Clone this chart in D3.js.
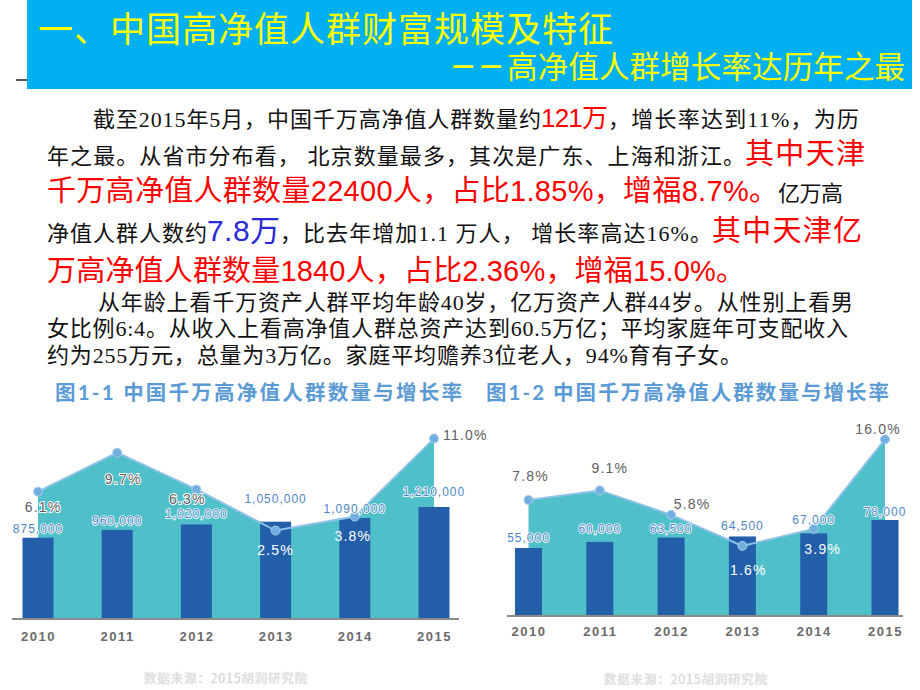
<!DOCTYPE html>
<html><head><meta charset="utf-8">
<script src="https://cdn.jsdelivr.net/npm/d3@7"></script>
<style>body{margin:0;background:#fff}svg{display:block}</style>
</head><body>
<svg id="c" width="920" height="690"></svg>
<script>
// ---------- DATA ----------
const years = ["2010", "2011", "2012", "2013", "2014", "2015"];
const count10m = [875000, 960000, 1020000, 1050000, 1090000, 1210000];
const growth10m = [6.1, 9.7, 6.3, 2.5, 3.8, 11.0];
const count100m = [55000, 60000, 63500, 64500, 67000, 78000];
const growth100m = [7.8, 9.1, 5.8, 1.6, 3.9, 16.0];

const titleText = "一、中国高净值人群财富规模及特征";
const subtitleDash = "——";
const subtitleText = "高净值人群增长率达历年之最";
const captionTexts = ["图1-1  中国千万高净值人群数量与增长率", "图1-2 中国千万高净值人群数量与增长率"];
const sourceText = "数据来源：2015胡润研究院";
const paragraph = [
  [["截至2015年5月，中国千万高净值人群数量约", "k"], ["121万", "r1"], ["，增长率达到11%，为历", "k"]],
  [["年之最。从省市分布看， 北京数量最多，其次是广东、上海和浙江。", "k"], ["其中天津", "r"]],
  [["千万高净值人群数量22400人，占比1.85%，增福8.7%。", "r"], ["亿万高", "k"]],
  [["净值人群人数约", "k"], ["7.8万", "b"], ["，比去年增加1.1 万人， 增长率高达16%。", "k"], ["其中天津亿", "r"]],
  [["万高净值人群数量1840人，占比2.36%，增福15.0%。", "r"]],
  [["从年龄上看千万资产人群平均年龄40岁，亿万资产人群44岁。从性别上看男", "k"]],
  [["女比例6:4。从收入上看高净值人群总资产达到60.5万亿；平均家庭年可支配收入", "k"]],
  [["约为255万元，总量为3万亿。家庭平均赡养3位老人，94%育有子女。", "k"]]
];

// ---------- LAYOUT / STYLE ----------
const lineLayout = [
  {y: 126.5, xs: [93, 541, 608, 859]},
  {y: 163.5, xs: [47, 745, 865]},
  {y: 201, xs: [47, 778, 843]},
  {y: 241, xs: [47, 207, 280, 712, 862]},
  {y: 281, xs: [47, 745]},
  {y: 310, xs: [98, 853]},
  {y: 336, xs: [47, 848]},
  {y: 363, xs: [47, 742]}
];
const textStyles = {
  k:  {family: "'Liberation Serif','Noto Sans CJK SC'", size: 22, fill: "#111"},
  r1: {family: "'Liberation Sans','Noto Sans CJK SC'", size: 26, fill: "#ff0000"},
  r:  {family: "'Liberation Sans','Noto Sans CJK SC'", size: 29, fill: "#ff0000"},
  b:  {family: "'Liberation Sans','Noto Sans CJK SC'", size: 30, fill: "#2a2ad8"}
};

const svg = d3.select("#c");

// banner
svg.append("rect").attr("x", 27).attr("y", 0).attr("width", 885).attr("height", 89).attr("fill", "#00b0f0");
svg.append("line").attr("x1", 16).attr("x2", 27).attr("y1", 80).attr("y2", 80).attr("stroke", "#222").attr("stroke-width", 1.5);
svg.append("text").attr("x", 38).attr("y", 41.5).text(titleText)
  .attr("font-family", "'Noto Sans CJK SC'").attr("font-size", 35).attr("fill", "#ffff00")
  .attr("textLength", 575).attr("lengthAdjust", "spacing");
svg.append("text").attr("x", 452).attr("y", 73).text(subtitleDash)
  .attr("font-family", "'DejaVu Sans'").attr("font-weight", "bold").attr("font-size", 22).attr("fill", "#ffff00")
  .attr("textLength", 50).attr("lengthAdjust", "spacing");
svg.append("text").attr("x", 507).attr("y", 78).text(subtitleText)
  .attr("font-family", "'Noto Sans CJK SC'").attr("font-size", 30.5).attr("fill", "#ffff00")
  .attr("textLength", 398).attr("lengthAdjust", "spacing");

// paragraph
paragraph.forEach((segs, li) => {
  const L = lineLayout[li];
  segs.forEach((s, i) => {
    const st = textStyles[s[1]];
    svg.append("text").attr("x", L.xs[i]).attr("y", L.y).text(s[0])
      .attr("font-family", st.family).attr("font-size", st.size).attr("fill", st.fill)
      .attr("textLength", L.xs[i + 1] - L.xs[i]).attr("lengthAdjust", "spacing");
  });
});

// captions
[[55, 462], [486, 889]].forEach((xx, i) => {
  svg.append("text").attr("x", xx[0]).attr("y", 400).text(captionTexts[i])
    .attr("font-family", "'Lato','Noto Sans CJK SC'").attr("font-weight", "bold")
    .attr("font-size", 20.5).attr("fill", "#5b9bd5")
    .attr("textLength", xx[1] - xx[0]).attr("lengthAdjust", "spacing");
});

// ---------- CHARTS ----------
function drawChart(cfg) {
  const g = svg.append("g");
  const x = d3.scalePoint().domain(years).range(cfg.xRange);
  const yB = d3.scaleLinear().domain([0, cfg.barMax]).range([cfg.base, cfg.barMaxY]);
  const yL = d3.scaleLinear().domain([0, cfg.lineMax]).range(cfg.lineRange);
  const pts = cfg.growth.map((v, i) => ({x: x(years[i]), y: yL(v), v}));

  g.append("path").datum(pts)
    .attr("d", d3.area().x(d => d.x).y0(cfg.base).y1(d => d.y))
    .attr("fill", "#4fbfc9");

  g.selectAll("rect.bar").data(cfg.counts).join("rect").attr("class", "bar")
    .attr("x", (d, i) => x(years[i]) - cfg.bw / 2).attr("y", d => yB(d))
    .attr("width", cfg.bw).attr("height", d => cfg.base - yB(d)).attr("fill", "#235fa8");

  g.append("line").attr("x1", cfg.axisX[0]).attr("x2", cfg.axisX[1])
    .attr("y1", cfg.base + 1).attr("y2", cfg.base + 1).attr("stroke", "#8a8a8a").attr("stroke-width", 2);

  g.append("path").datum(pts).attr("d", d3.line().x(d => d.x).y(d => d.y))
    .attr("fill", "none").attr("stroke", "#8cc2e8").attr("stroke-width", 2);
  g.selectAll("circle.pt").data(pts).join("circle").attr("class", "pt")
    .attr("cx", d => d.x).attr("cy", d => d.y).attr("r", 4.5)
    .attr("fill", "#72afe0").attr("stroke", "#a6cdee").attr("stroke-width", 1);

  const fmt = d3.format(",");
  g.selectAll("text.bl").data(cfg.counts).join("text").attr("class", "bl")
    .attr("x", (d, i) => x(years[i])).attr("y", (d, i) => yB(d) - cfg.barLabelLift[i] + 4)
    .attr("text-anchor", "middle").text(d => fmt(d))
    .attr("font-family", "'Liberation Sans'").attr("font-size", 12).attr("letter-spacing", 1)
    .attr("fill", "#4f86c6").attr("stroke", "#fff").attr("stroke-width", 1.6).attr("paint-order", "stroke");

  g.selectAll("text.pl").data(pts).join("text").attr("class", "pl")
    .attr("x", (d, i) => d.x + cfg.pctPlace[i][0]).attr("y", (d, i) => d.y + cfg.pctPlace[i][1] + 5)
    .attr("text-anchor", (d, i) => cfg.pctPlace[i][2] || "middle")
    .text(d => d.v.toFixed(1) + "%")
    .attr("font-family", "'Liberation Sans'").attr("font-size", 14).attr("letter-spacing", 1.2)
    .attr("fill", (d, i) => cfg.pctWhite[i] ? "#ffffff" : "#5e5e5e")
    .attr("stroke", (d, i) => cfg.pctWhite[i] ? "none" : "#fff").attr("stroke-width", 2).attr("paint-order", "stroke");

  const ax = g.append("g").attr("transform", `translate(0,${cfg.base})`)
    .call(d3.axisBottom(x).tickSize(0).tickPadding(cfg.tickPad));
  ax.select(".domain").remove();
  ax.selectAll("text").attr("font-family", "'Liberation Sans'").attr("font-weight", "bold")
    .attr("font-size", 13).attr("letter-spacing", 1.5).attr("fill", "#6a6a6a")
    .attr("stroke", "#fff").attr("stroke-width", 1.5).attr("paint-order", "stroke");

  g.append("text").attr("x", cfg.srcX).attr("y", cfg.srcY).attr("text-anchor", "middle").text(sourceText)
    .attr("font-family", "'Noto Sans CJK SC'").attr("font-size", 12.5).attr("letter-spacing", 0.8)
    .attr("fill", "#c4c4c4").attr("stroke", "#e6e6e6").attr("stroke-width", 0.6);
}

drawChart({
  counts: count10m, growth: growth10m,
  xRange: [38, 434], bw: 31, base: 618, barMax: 1210000, barMaxY: 507,
  lineMax: 12, lineRange: [557.6, 427.8], axisX: [12, 459], tickPad: 13.5,
  barLabelLift: [9, 9, 10, 23, 9, 15],
  pctPlace: [[5, 15], [6, 26], [-9, 10], [0, 19], [-2, 20], [9, -4, "start"]],
  pctWhite: [0, 0, 0, 1, 1, 0],
  srcX: 226, srcY: 683
});
drawChart({
  counts: count100m, growth: growth100m,
  xRange: [528.5, 885], bw: 27, base: 615, barMax: 78000, barMaxY: 520,
  lineMax: 16, lineRange: [557.7, 439.4], axisX: [507, 903], tickPad: 11.5,
  barLabelLift: [10, 13, 9, 10, 13, 8],
  pctPlace: [[2, -24], [10, -22], [21, -11], [6, 24], [9, 20], [-7, -10]],
  pctWhite: [0, 0, 0, 1, 1, 0],
  srcX: 686, srcY: 684
});
</script>
</body></html>
